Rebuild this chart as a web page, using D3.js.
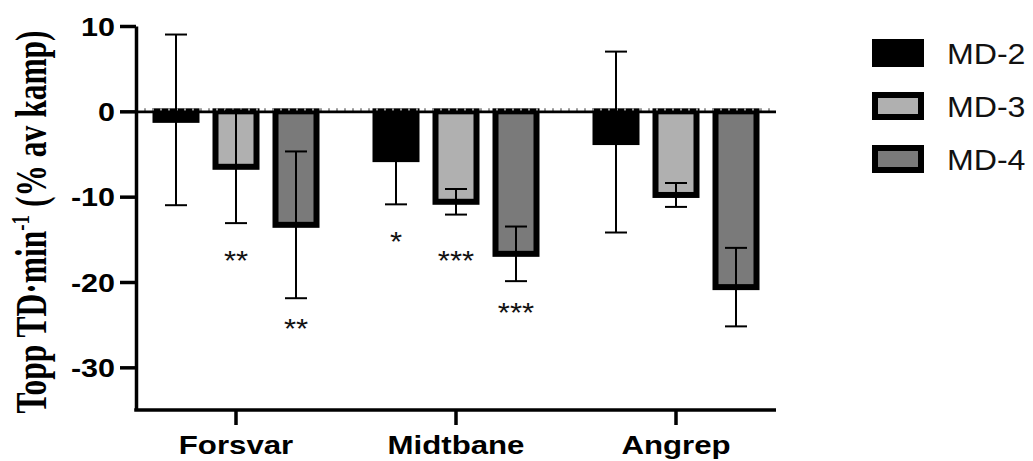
<!DOCTYPE html>
<html>
<head>
<meta charset="utf-8">
<script src="https://cdn.jsdelivr.net/npm/d3@7"></script>
<style>
  html, body { margin: 0; padding: 0; background: #fff; }
  svg { display: block; }
</style>
</head>
<body>
<svg id="chart" width="1033" height="461"></svg>
<script>
const groups = ['Forsvar', 'Midtbane', 'Angrep']
const seriesNames = ['MD-2', 'MD-3', 'MD-4']
const seriesFill = ['#000000', '#b0b0b0', '#7a7a7a']

// mean and SD per group (Forsvar, Midtbane, Angrep)
const md2Mean = [-1.0, -5.6, -3.6]
const md2Sd = [10.0, 5.3, 10.6]
const md3Mean = [-6.5, -10.6, -9.8]
const md3Sd = [6.6, 1.5, 1.4]
const md4Mean = [-13.3, -16.7, -20.6]
const md4Sd = [8.6, 3.2, 4.6]

const yTicks = [10, 0, -10, -20, -30]

// significance markers: text, group, series, value where it sits
const sigText = ['**', '**', '*', '***', '***']
const sigGroup = ['Forsvar', 'Forsvar', 'Midtbane', 'Midtbane', 'Midtbane']
const sigSeries = ['MD-3', 'MD-4', 'MD-2', 'MD-3', 'MD-4']
const sigAt = [-18.5, -26.4, -16.2, -18.5, -24.6]

const meanBySeries = [md2Mean, md3Mean, md4Mean]
const sdBySeries = [md2Sd, md3Sd, md4Sd]
const rows = []
seriesNames.forEach((s, si) => {
    groups.forEach((g, gi) => {
        rows.push({ group: g, series: s, si, mean: meanBySeries[si][gi], sd: sdBySeries[si][gi] })
    })
})

const svg = d3.select('#chart')
const axisX = 136
const axisRight = 776
const sans = '"Liberation Sans", Arial, sans-serif'

// widen text horizontally like the original export
function stretch(sel, f) {
    sel.each(function () {
        const len = this.getComputedTextLength()
        d3.select(this).attr('textLength', len * f).attr('lengthAdjust', 'spacingAndGlyphs')
    })
}

const y = d3.scaleLinear().domain([-35, 10]).range([410, 26])
const x0 = d3.scaleBand().domain(groups).range([126, 786])
const x1 = d3.scaleBand().domain(seriesNames).range([-90, 90])
const barW = 41
const cx = d => x0(d.group) + x0.bandwidth() / 2 + x1(d.series) + x1.bandwidth() / 2

// bars
svg.append('g').selectAll('rect')
    .data(rows)
    .join('rect')
    .attr('x', d => cx(d) - barW / 2)
    .attr('y', y(0))
    .attr('width', barW)
    .attr('height', d => y(d.mean) - y(0))
    .attr('fill', d => seriesFill[d.si])
    .attr('stroke', '#000')
    .attr('stroke-width', 6)

// zero line (dotted grey under a black line)
svg.append('line')
    .attr('x1', axisX).attr('x2', axisRight)
    .attr('y1', y(0) - 1).attr('y2', y(0) - 1)
    .attr('stroke', '#999').attr('stroke-width', 4)
    .attr('stroke-dasharray', '2,6')
svg.append('line')
    .attr('x1', axisX).attr('x2', axisRight)
    .attr('y1', y(0) + 0.5).attr('y2', y(0) + 0.5)
    .attr('stroke', '#000').attr('stroke-width', 2.8)

// error bars
const eb = svg.append('g').attr('stroke', '#000').attr('stroke-width', 2)
eb.selectAll('.ev').data(rows).join('line')
    .attr('class', 'ev')
    .attr('x1', cx).attr('x2', cx)
    .attr('y1', d => y(d.mean + d.sd)).attr('y2', d => y(d.mean - d.sd))
eb.selectAll('.ct').data(rows).join('line')
    .attr('class', 'ct')
    .attr('x1', d => cx(d) - 11).attr('x2', d => cx(d) + 11)
    .attr('y1', d => y(d.mean + d.sd)).attr('y2', d => y(d.mean + d.sd))
eb.selectAll('.cb').data(rows).join('line')
    .attr('class', 'cb')
    .attr('x1', d => cx(d) - 11).attr('x2', d => cx(d) + 11)
    .attr('y1', d => y(d.mean - d.sd)).attr('y2', d => y(d.mean - d.sd))

// significance stars
const sig = svg.append('g').selectAll('text')
    .data(sigText.map((t, i) => ({ text: t, group: sigGroup[i], series: sigSeries[i], at: sigAt[i] })))
    .join('text')
    .attr('x', cx)
    .attr('y', d => y(d.at) + 1)
    .attr('text-anchor', 'middle')
    .attr('font-family', sans)
    .attr('font-size', 27)
    .attr('fill', '#111')
    .text(d => d.text)
stretch(sig, 1.15)

// y axis
const yAxis = svg.append('g')
    .attr('transform', `translate(${axisX},0)`)
    .call(d3.axisLeft(y).tickValues(yTicks).tickFormat(d => String(d)).tickSize(16).tickSizeOuter(0).tickPadding(5))
yAxis.select('.domain').attr('stroke-width', 3.5)
yAxis.selectAll('.tick line').attr('stroke-width', 3.5)
const yLab = yAxis.selectAll('.tick text')
    .attr('font-family', sans)
    .attr('font-size', 25)
    .attr('font-weight', 'bold')
    .attr('fill', '#000')
    .attr('dy', '0.36em')
stretch(yLab, 1.22)

// x axis
const xAxis = svg.append('g')
    .attr('transform', `translate(0,${y(-35)})`)
    .call(d3.axisBottom(x0).tickSize(15).tickSizeOuter(0).tickPadding(11))
xAxis.select('.domain').remove()
xAxis.append('line')
    .attr('x1', axisX - 1.75).attr('x2', axisRight)
    .attr('stroke', '#000').attr('stroke-width', 3.5)
xAxis.selectAll('.tick line').attr('stroke-width', 3.5)
const xLab = xAxis.selectAll('.tick text')
    .attr('font-family', sans)
    .attr('font-size', 26)
    .attr('font-weight', 'bold')
    .attr('fill', '#000')
stretch(xLab, 1.2)

// y title
const title = svg.append('text')
    .attr('transform', 'translate(46,222) scale(1.38,1) rotate(-90)')
    .attr('text-anchor', 'middle')
    .attr('font-family', '"Liberation Serif", "Times New Roman", serif')
    .attr('font-weight', 'bold')
    .attr('font-size', 31.5)
    .attr('fill', '#000')
title.append('tspan').text('Topp TD·min')
title.append('tspan').attr('font-size', 19).attr('dy', -12).text('-1')
title.append('tspan').attr('dy', 12).text(' (% av kamp)')

// legend
const legend = svg.append('g')
const leg = legend.selectAll('g')
    .data(seriesNames)
    .join('g')
    .attr('transform', (d, i) => `translate(872,${39 + i * 53})`)
leg.append('rect')
    .attr('x', 3).attr('y', 3)
    .attr('width', 46).attr('height', 22)
    .attr('fill', (d, i) => seriesFill[i])
    .attr('stroke', '#000').attr('stroke-width', 6)
const legText = leg.append('text')
    .attr('x', 75).attr('y', 25)
    .attr('font-family', sans)
    .attr('font-size', 30)
    .attr('fill', '#111')
    .text(d => d)
stretch(legText, 1.07)
</script>
</body>
</html>
